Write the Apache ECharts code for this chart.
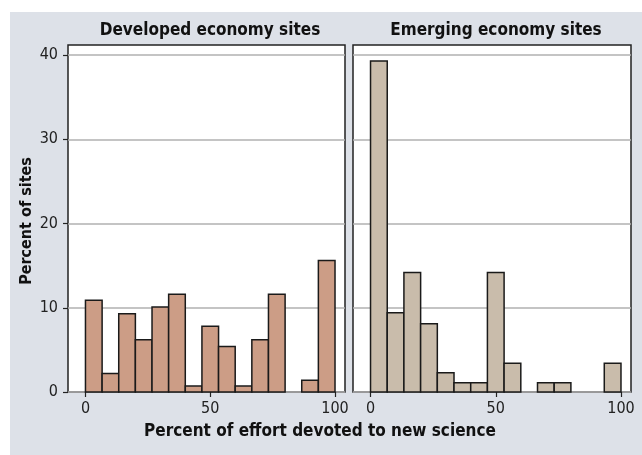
<!DOCTYPE html>
<html>
<head>
<meta charset="utf-8">
<script src="https://cdn.jsdelivr.net/npm/echarts@6/dist/echarts.min.js"></script>
<style>
  html, body { margin: 0; padding: 0; background: #fff; }
  #main { width: 642px; height: 455px; }
</style>
</head>
<body>
<div id="main"></div>
<script>
// histogram bin edges (percent of effort), 15 bins
var binEdges = [0, 6.67, 13.33, 20, 26.67, 33.33, 40, 46.67, 53.33, 60, 66.67, 73.33, 80, 86.67, 93.33, 100];
// percent of sites in each bin
var developed = [10.9, 2.2, 9.3, 6.2, 10.1, 11.6, 0.7, 7.8, 5.4, 0.7, 6.2, 11.6, 0, 1.4, 15.6];
var emerging = [39.3, 9.4, 14.2, 8.1, 2.3, 1.1, 1.1, 14.2, 3.4, 0, 1.1, 1.1, 0, 0, 3.4];
var panelTitles = ['Developed economy sites', 'Emerging economy sites'];
var xTicks = [0, 50, 100];
var yTicks = [0, 10, 20, 30, 40];

var font = 'DejaVu Sans Condensed';

function toRows(vals) {
    var rows = [];
    for (var i = 0; i < vals.length; i++) {
        rows.push([binEdges[i], binEdges[i + 1], vals[i]]);
    }
    return rows;
}

function barRenderer(fill) {
    return function (params, api) {
        var v = api.value(2);
        if (!v) return;
        var p0 = api.coord([api.value(0), 0]);
        var p1 = api.coord([api.value(1), v]);
        return {
            type: 'rect',
            shape: { x: p0[0], y: p1[1], width: p1[0] - p0[0], height: p0[1] - p1[1] },
            style: { fill: fill, stroke: '#1a1a1a', lineWidth: 1.5 }
        };
    };
}

function xAxisFor(idx) {
    return {
        type: 'value', gridIndex: idx, min: -7, max: 104,
        axisLine: { show: false, onZero: false },
        axisTick: { show: true, length: 5, customValues: xTicks, lineStyle: { color: '#222', width: 1.2 } },
        axisLabel: { show: true, customValues: xTicks, margin: 9, color: '#222', fontSize: 16, fontFamily: font },
        splitLine: { show: false }
    };
}

function yAxisFor(idx) {
    return {
        type: 'value', gridIndex: idx, min: 0, max: 41.2, interval: 10,
        axisLine: { show: false, onZero: false },
        axisTick: { show: idx === 0, length: 5, customValues: yTicks, lineStyle: { color: '#222', width: 1.2 } },
        axisLabel: { show: idx === 0, customValues: yTicks, margin: 10, color: '#222', fontSize: 16, fontFamily: font },
        splitLine: { show: true, lineStyle: { color: '#b0b0b0', width: 1.5 } }
    };
}

var myChart = echarts.init(document.getElementById('main'));
var option = {
    backgroundColor: '#fff',
    animation: false,
    graphic: [
        { type: 'rect', z: -100, silent: true, shape: { x: 10, y: 12, width: 632, height: 443 }, style: { fill: '#dde1e8' } },
        { type: 'text', x: 210, y: 31, style: { text: panelTitles[0], font: 'bold 17px ' + font, fill: '#111', textAlign: 'center', textVerticalAlign: 'middle' } },
        { type: 'text', x: 496, y: 31, style: { text: panelTitles[1], font: 'bold 17px ' + font, fill: '#111', textAlign: 'center', textVerticalAlign: 'middle' } },
        { type: 'text', x: 320, y: 432, style: { text: 'Percent of effort devoted to new science', font: 'bold 17px ' + font, fill: '#111', textAlign: 'center', textVerticalAlign: 'middle' } },
        { type: 'text', x: 27, y: 221, rotation: Math.PI / 2, style: { text: 'Percent of sites', font: 'bold 16px ' + font, fill: '#111', textAlign: 'center', textVerticalAlign: 'middle' } }
    ],
    grid: [
        { left: 68, right: 297, top: 45, bottom: 63, show: true, backgroundColor: '#fff', borderColor: '#222', borderWidth: 1.5 },
        { left: 353, right: 11, top: 45, bottom: 63, show: true, backgroundColor: '#fff', borderColor: '#222', borderWidth: 1.5 }
    ],
    xAxis: [xAxisFor(0), xAxisFor(1)],
    yAxis: [yAxisFor(0), yAxisFor(1)],
    series: [
        { type: 'custom', xAxisIndex: 0, yAxisIndex: 0, renderItem: barRenderer('#cc9d86'), encode: { x: [0, 1], y: 2 }, data: toRows(developed), z: 5 },
        { type: 'custom', xAxisIndex: 1, yAxisIndex: 1, renderItem: barRenderer('#c9bcab'), encode: { x: [0, 1], y: 2 }, data: toRows(emerging), z: 5 }
    ]
};
myChart.setOption(option);
</script>
</body>
</html>
